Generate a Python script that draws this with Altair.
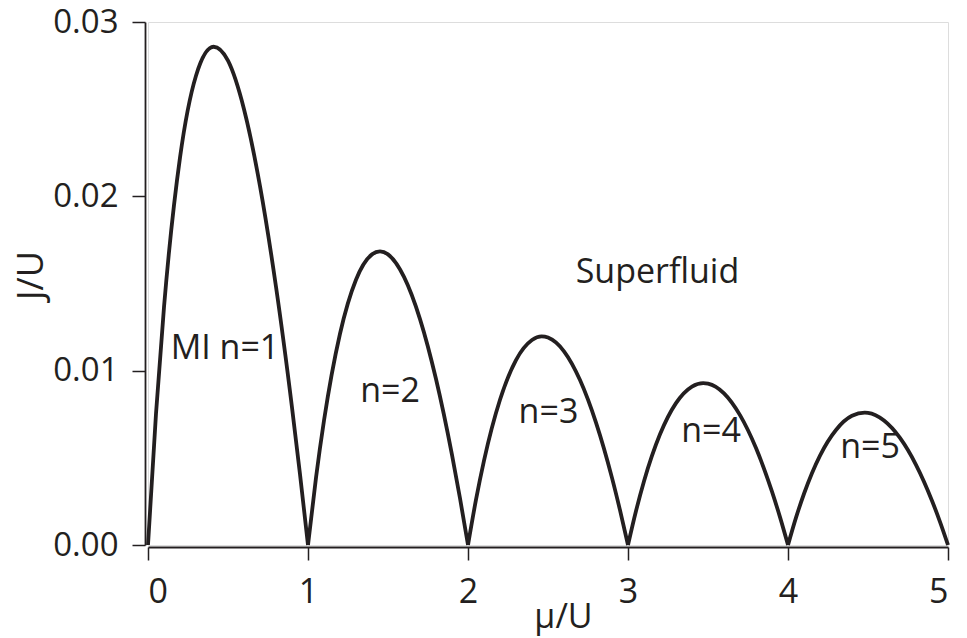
import altair as alt
import pandas as pd

# Phase-boundary lobes (mu/U, J/U)
lobe1_mu = [0.0, 0.05, 0.1, 0.2, 0.3, 0.41, 0.5, 0.6, 0.7, 0.8, 0.9, 0.95, 1.0]
lobe1_j = [0.0, 0.00754, 0.01364, 0.02222, 0.02692, 0.02858, 0.02778, 0.0250, 0.02059, 0.01481, 0.00789, 0.00406, 0.0]

lobe2_mu = [1.0, 1.05, 1.1, 1.2, 1.3, 1.4, 1.45, 1.5, 1.6, 1.7, 1.8, 1.9, 1.95, 2.0]
lobe2_j = [0.0, 0.00386, 0.00714, 0.01212, 0.01522, 0.01667, 0.01684, 0.01667, 0.01538, 0.01296, 0.00952, 0.00517, 0.00268, 0.0]

lobe3_mu = [2.0, 2.05, 2.1, 2.2, 2.3, 2.4, 2.46, 2.5, 2.6, 2.7, 2.8, 2.9, 2.95, 3.0]
lobe3_j = [0.0, 0.00260, 0.00484, 0.00833, 0.01061, 0.01176, 0.01197, 0.01190, 0.01111, 0.00946, 0.00702, 0.00385, 0.00200, 0.0]

lobe4_mu = [3.0, 3.05, 3.1, 3.2, 3.3, 3.4, 3.47, 3.5, 3.6, 3.7, 3.8, 3.9, 3.95, 4.0]
lobe4_j = [0.0, 0.00195, 0.00366, 0.00635, 0.00814, 0.00909, 0.00929, 0.00926, 0.00870, 0.00745, 0.00556, 0.00306, 0.00160, 0.0]

lobe5_mu = [4.0, 4.05, 4.1, 4.2, 4.3, 4.4, 4.48, 4.5, 4.6, 4.7, 4.8, 4.9, 4.95, 5.0]
lobe5_j = [0.0, 0.00157, 0.00294, 0.00513, 0.00660, 0.00741, 0.00759, 0.00758, 0.00714, 0.00614, 0.00460, 0.00254, 0.00133, 0.0]

# Region labels and their anchor points (mu/U, J/U)
label_text = ["MI n=1", "n=2", "n=3", "n=4", "n=5", "Superfluid"]
label_mu = [0.481, 1.5125, 2.503, 3.519, 4.5125, 3.184]
label_j = [0.01067, 0.00820, 0.00700, 0.00591, 0.00499, 0.01503]

x_ticks = [0, 1, 2, 3, 4, 5]
y_ticks = [0.0, 0.01, 0.02, 0.03]

rows = []
for name, mus, js in [("n=1", lobe1_mu, lobe1_j), ("n=2", lobe2_mu, lobe2_j),
                      ("n=3", lobe3_mu, lobe3_j), ("n=4", lobe4_mu, lobe4_j),
                      ("n=5", lobe5_mu, lobe5_j)]:
    for m, j in zip(mus, js):
        rows.append({"lobe": name, "mu": m, "J": j})
lobes = pd.DataFrame(rows)
labels = pd.DataFrame({"text": label_text, "mu": label_mu, "J": label_j})

INK = "#231f20"
FONT = "Open Sans"

xscale = alt.Scale(domain=[0, 5], nice=False, zero=False)
yscale = alt.Scale(domain=[0, 0.03], nice=False, zero=False)

lines = alt.Chart(lobes).mark_line(
    color=INK, strokeWidth=3.8, interpolate="monotone"
).encode(
    x=alt.X("mu:Q", scale=xscale, axis=alt.Axis(
        values=x_ticks, format="d", title="μ/U", grid=False,
        offset=2, tickSize=13, tickWidth=1.5, domainWidth=1.8,
        domainColor=INK, tickColor=INK, labelColor=INK, titleColor=INK,
        labelFont=FONT, labelFontSize=34, labelPadding=15,
        titleFont=FONT, titleFontSize=34, titleFontWeight="normal",
        titleX=415, titleY=80, titleBaseline="alphabetic", titleAlign="center",
    )),
    y=alt.Y("J:Q", scale=yscale, axis=alt.Axis(
        values=y_ticks, format=".2f", title="J/U", grid=False,
        offset=3, tickSize=13, tickWidth=1.5, domainWidth=1.8,
        domainColor=INK, tickColor=INK, labelColor=INK, titleColor=INK,
        labelFont=FONT, labelFontSize=33, labelPadding=14, labelOffset=0,
        titleFont=FONT, titleFontSize=36, titleFontWeight="normal",
        titleAngle=-90, titleX=-103, titleY=253,
        titleBaseline="alphabetic", titleAlign="center",
    )),
    detail="lobe:N",
)

texts = alt.Chart(labels).mark_text(
    font=FONT, fontSize=34, color=INK, align="center", baseline="alphabetic"
).encode(
    x=alt.X("mu:Q", scale=xscale),
    y=alt.Y("J:Q", scale=yscale),
    text="text:N",
)

chart = alt.layer(lines, texts).properties(
    width=800, height=523,
    autosize=alt.AutoSizeParams(type="none"),
    padding={"left": 148, "top": 22, "right": 19, "bottom": 93},
).configure_view(stroke=None).configure(background="white")

chart.save("out.html", embed_options={"renderer": "svg", "actions": False})
